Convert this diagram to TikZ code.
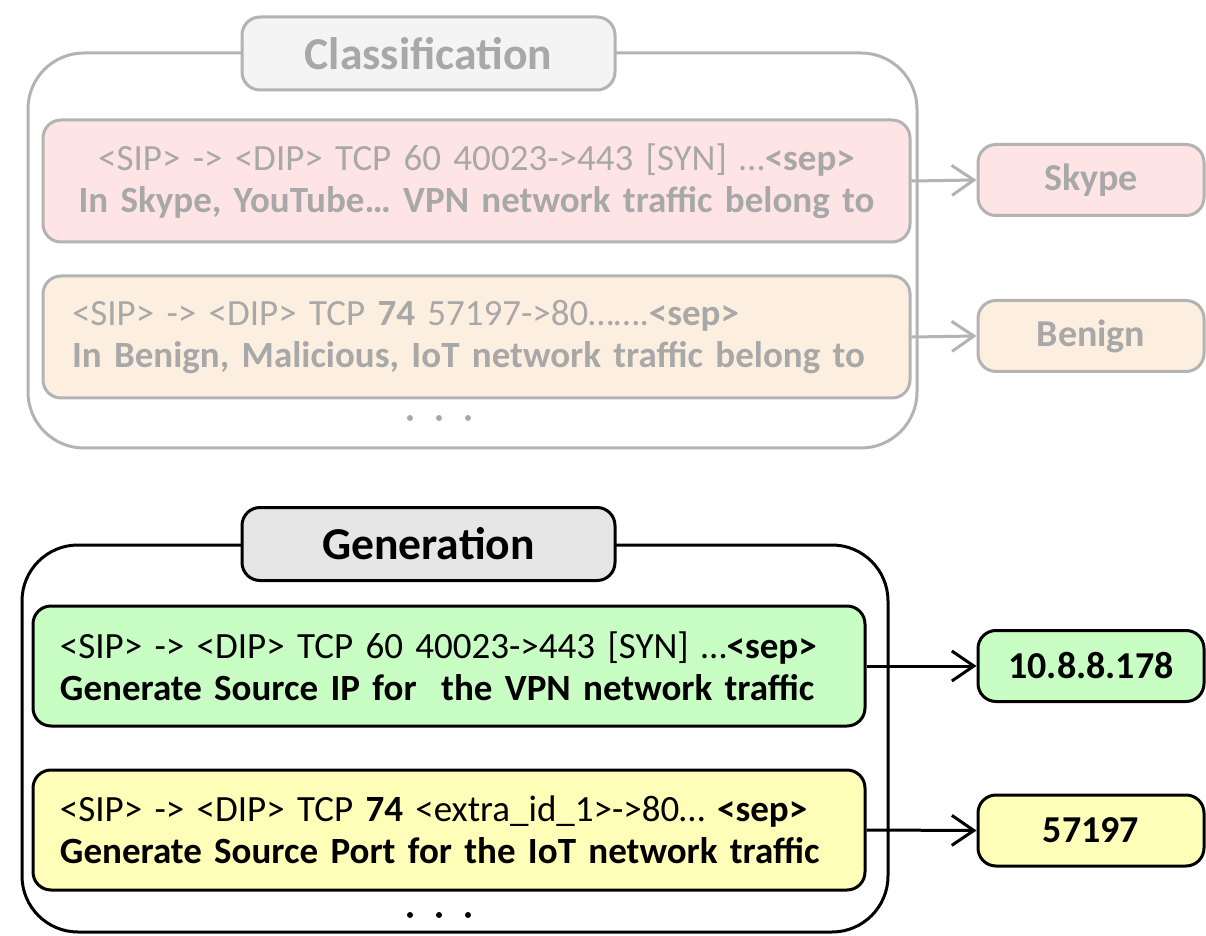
\documentclass[tikz,border=0pt]{standalone}
\usepackage{fontspec}
\setmainfont{Carlito}
\usetikzlibrary{arrows.meta}
\definecolor{grayline}{HTML}{B3B3B3}
\definecolor{graytext}{HTML}{A8A8A8}
\definecolor{pinkfill}{HTML}{FEE4E4}
\definecolor{orangefill}{HTML}{FDEFE0}
\definecolor{ctitlefill}{HTML}{F4F4F4}
\definecolor{gtitlefill}{HTML}{E6E6E6}
\definecolor{greenfill}{HTML}{C8FEC4}
\definecolor{yellowfill}{HTML}{FEFEB8}
\begin{document}
\begin{tikzpicture}[x=0.5pt,y=-0.5pt,
  lightbox/.style={draw=grayline, line width=1.5pt, rounded corners=9pt, text=graytext},
  darkbox/.style={draw=black, line width=1.5pt, rounded corners=9pt, text=black},
  body/.style={font=\fontsize{18.5}{20.8}\selectfont, inner ysep=0pt, minimum height=61pt},
  titlefont/.style={font=\fontsize{22.8}{26}\selectfont\bfseries, minimum width=186.5pt, minimum height=36.5pt, inner sep=0pt},
  resbox/.style={font=\fontsize{19}{22}\selectfont\bfseries, minimum width=113pt, minimum height=35.5pt, inner sep=0pt},
  lightarr/.style={draw=grayline, line width=1.5pt, -{Straight Barb[length=11pt,width=15pt,line width=1.5pt]}},
  darkarr/.style={draw=black, line width=1.5pt, -{Straight Barb[length=11pt,width=15pt,line width=1.5pt]}},
  dot/.style={circle, inner sep=0pt, minimum size=3pt}
]
\useasboundingbox (0,0) rectangle (1206,936);

% ---------- Classification ----------
\draw[grayline, line width=1.5pt, rounded corners=28pt] (28,53) rectangle (917,448);
\node[lightbox, fill=ctitlefill, titlefont] (ctitle) at (428.5,53.5) {Classification};

\node[lightbox, fill=pinkfill, body, align=center, text width=404.5pt, inner xsep=14.5pt] (pink) at (476.5,181)
  {<SIP> -> <DIP> TCP 60 40023->443 [SYN] …\textbf{<sep>}\\ \textbf{In Skype, YouTube… VPN network traffic belong to}};
\node[lightbox, fill=orangefill, body, align=left, text width=404.5pt, inner xsep=14.5pt] (orange) at (476.5,337)
  {<SIP> -> <DIP> TCP \textbf{74} 57197->80…….\textbf{<sep>}\\ \textbf{In Benign, Malicious, IoT network traffic belong to}};

\node[dot, fill=graytext] (cd1) at (410,418) {};
\node[dot, fill=graytext] (cd2) at (439,418) {};
\node[dot, fill=graytext] (cd3) at (468,418) {};

\node[lightbox, fill=pinkfill, resbox] (skype) at (1091,180) {Skype};
\node[lightbox, fill=orangefill, resbox] (benign) at (1091,336) {Benign};

\draw[lightarr] (pink.east) -- (skype.west);
\draw[lightarr] (orange.east) -- (benign.west);

% ---------- Generation ----------
\draw[black, line width=1.5pt, rounded corners=28pt] (22,545) rectangle (888,932);
\node[darkbox, fill=gtitlefill, titlefont] (gtitle) at (428.5,544) {Generation};

\node[darkbox, fill=greenfill, body, align=left, text width=389pt, inner xsep=13.5pt, minimum height=60pt] (green) at (449,666)
  {<SIP> -> <DIP> TCP 60 40023->443 [SYN] …\textbf{<sep>}\\ \textbf{Generate Source IP for\ \ the VPN network traffic}};
\node[darkbox, fill=yellowfill, body, align=left, text width=389pt, inner xsep=13.5pt, minimum height=60pt] (yellow) at (449,830)
  {<SIP> -> <DIP> TCP \textbf{74} <extra\_id\_1>->80… \textbf{<sep>}\\ \textbf{Generate Source Port for the IoT network traffic}};

\node[dot, fill=black] (gd1) at (410,915) {};
\node[dot, fill=black] (gd2) at (439,915) {};
\node[dot, fill=black] (gd3) at (468,915) {};

\node[darkbox, fill=greenfill, resbox] (ip) at (1091,666) {10.8.8.178};
\node[darkbox, fill=yellowfill, resbox] (port) at (1091,830.5) {57197};

\draw[darkarr] (green.east) -- (ip.west);
\draw[darkarr] (yellow.east) -- (port.west);
\end{tikzpicture}
\end{document}
